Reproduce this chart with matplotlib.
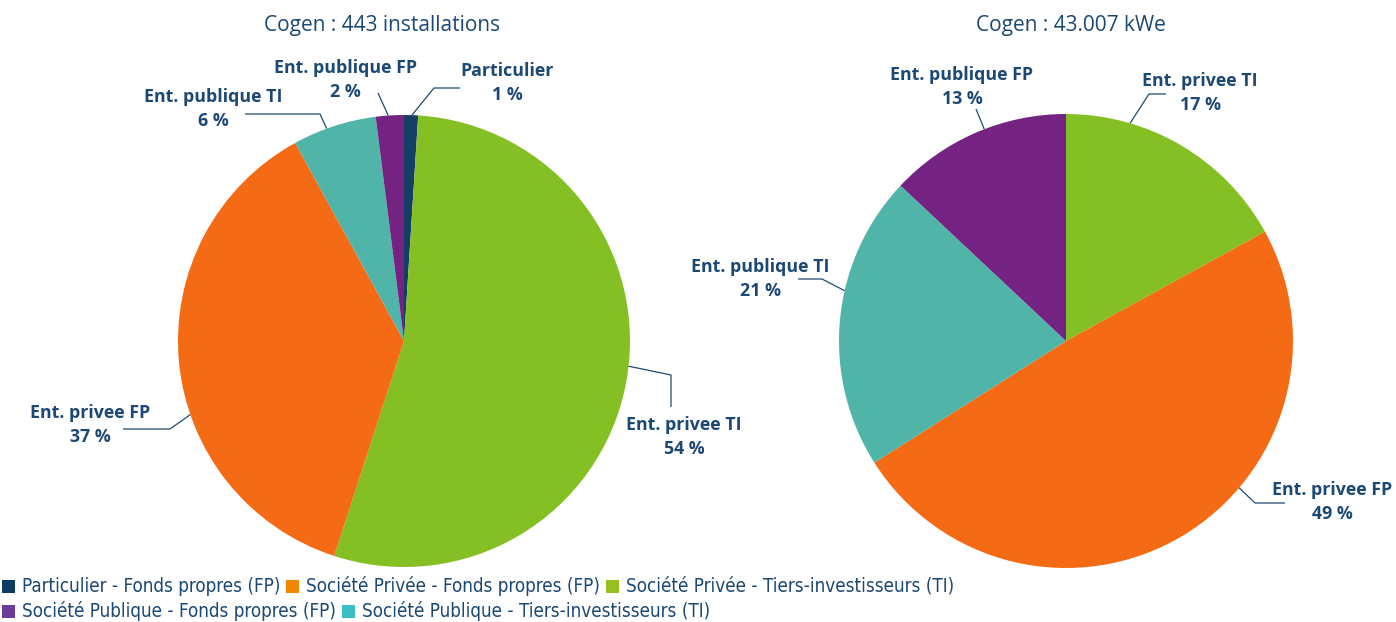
import numpy as np
import matplotlib
matplotlib.use("Agg")
import matplotlib.pyplot as plt
from matplotlib import font_manager
from matplotlib.patches import Rectangle

# --- data -------------------------------------------------------------
title_left = "Cogen : 443 installations"
title_right = "Cogen : 43.007 kWe"

names_left = ["Particulier", "Ent. privee TI", "Ent. privee FP", "Ent. publique TI", "Ent. publique FP"]
pct_left = [1, 54, 37, 6, 2]

names_right = ["Ent. privee TI", "Ent. privee FP", "Ent. publique TI", "Ent. publique FP"]
pct_right = [17, 49, 21, 13]

legend_labels = [
    "Particulier - Fonds propres (FP)",
    "Société Privée - Fonds propres (FP)",
    "Société Privée - Tiers-investisseurs (TI)",
    "Société Publique - Fonds propres (FP)",
    "Société Publique - Tiers-investisseurs (TI)",
]

# --- style ------------------------------------------------------------
W, H = 1396, 622
pie_col = {"Particulier": "#143e64", "Ent. privee TI": "#84bf24", "Ent. privee FP": "#f56a14",
           "Ent. publique TI": "#50b4a8", "Ent. publique FP": "#742382"}
legend_col = ["#0e3b63", "#f18700", "#95c11f", "#6c3d98", "#3bbfc2"]
txt_col = "#1c4874"
line_col = "#1e4a73"

# legend uses a condensed face when one is around
fonts = font_manager.fontManager.ttflist
if any(f.name == "Liberation Sans Narrow" for f in fonts):
    leg_font = dict(family="Liberation Sans Narrow", fontsize=14)
elif any(f.name == "DejaVu Sans" and f.stretch == "condensed" for f in fonts):
    leg_font = dict(family="DejaVu Sans", stretch="condensed", fontsize=13.5)
else:
    leg_font = dict(family="DejaVu Sans", fontsize=12.2)

# label layout: anchor angle (deg clockwise from top), elbow, end of leader, text centre (px, from top)
lay_left = [
    (2, (434, 88), (460, 88), (507, 71)),
    (96.4, (671, 375), (671, 407), (684, 425)),
    (251, (170, 429), (123, 429), (90, 413)),
    (340, (320, 114), (245, 114), (213, 97)),
    (356, (378, 93), (378, 93), (345, 68)),
]
lay_right = [
    (16.4, (1149, 94), (1166, 94), (1200, 81)),
    (130.3, (1255, 503), (1285, 503), (1332, 490)),
    (282.8, (822, 279), (798, 279), (760, 267)),
    (338.9, (976, 109), (976, 109), (962, 75)),
]

fig = plt.figure(figsize=(W / 100, H / 100), dpi=100)
ax = fig.add_axes([0, 0, 1, 1])


def Y(y):
    return H - y


def draw_pie(cx, cy, r, names, pcts, layout, title, tx):
    ax.pie(pcts, colors=[pie_col[n] for n in names], startangle=90, counterclock=False,
           center=(cx, Y(cy)), radius=r, wedgeprops=dict(linewidth=0))
    for n, p, (ang, elbow, end, pos) in zip(names, pcts, layout):
        a = np.radians(ang)
        ex, ey = cx + r * np.sin(a), Y(cy) + r * np.cos(a)
        ax.plot([ex, elbow[0], end[0]], [ey, Y(elbow[1]), Y(end[1])],
                color=line_col, lw=0.9, solid_capstyle="butt")
        ax.text(pos[0], Y(pos[1]), n, ha="center", va="center", color=txt_col,
                fontsize=12.8, fontweight="bold", family="Open Sans")
        ax.text(pos[0], Y(pos[1] + 24), f"{p} %", ha="center", va="center", color=txt_col,
                fontsize=12.8, fontweight="bold", family="Open Sans")
    ax.text(tx, Y(25), title, ha="center", va="center", color=txt_col,
            fontsize=15, family="Open Sans")


draw_pie(404, 341, 226, names_left, pct_left, lay_left, title_left, 382)
draw_pie(1066, 341, 227, names_right, pct_right, lay_right, title_right, 1071)

# pie() resets the limits, so fix the pixel frame afterwards
ax.set_xlim(0, W)
ax.set_ylim(0, H)
ax.set_aspect("equal")
ax.axis("off")

# --- legend, laid out as flowing text in two rows ------------------------
renderer = fig.canvas.get_renderer()
rows = [(586, [0, 1, 2]), (611, [3, 4])]
sq = 13
for ry, idx in rows:
    x = 2
    for i in idx:
        ax.add_patch(Rectangle((x, Y(ry) - sq / 2), sq, sq, color=legend_col[i], lw=0))
        x += sq + 7
        t = ax.text(x, Y(ry), legend_labels[i], ha="left", va="center", color=txt_col, **leg_font)
        bb = t.get_window_extent(renderer)
        x += bb.width + 6

fig.savefig("out.png", dpi=100)
